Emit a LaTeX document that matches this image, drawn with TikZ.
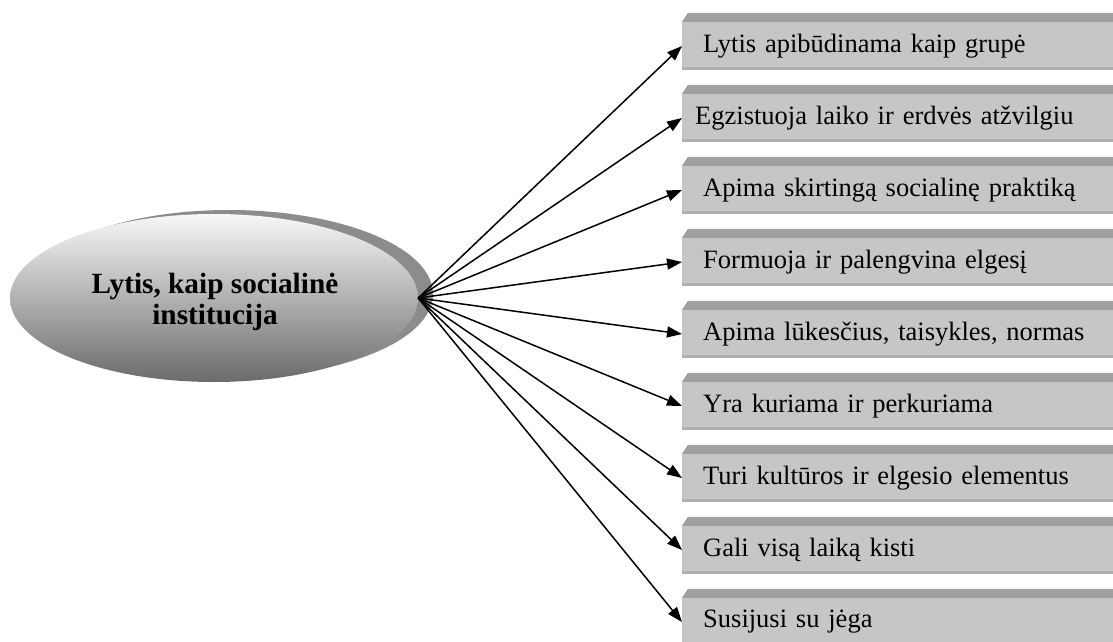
\documentclass[tikz,border=0pt]{standalone}
\usepackage{fontspec}
\setmainfont{Liberation Serif}
\usetikzlibrary{arrows.meta,shapes.geometric}

\definecolor{facegray}{HTML}{C6C6C6}
\definecolor{bevelgray}{HTML}{A0A0A0}
\definecolor{edgegray}{HTML}{B0B0B0}
\definecolor{shadowgray}{HTML}{8C8C8C}

\begin{document}
\begin{tikzpicture}[x=1pt,y=-1pt]
    \useasboundingbox (0,0) rectangle (1113,642);

    % the institution (ellipse with its grey back)
    \begin{scope}[every node/.style={ellipse,inner sep=0pt,minimum width=408pt,minimum height=168pt}]
        \node[fill=shadowgray] (E_back) at (229, 294) {};
        \node[top color=black!3, bottom color=black!58] (E) at (214, 298) {};
    \end{scope}
    \node[font=\fontsize{29.3}{31.5}\selectfont\bfseries, align=center] (E_text) at (215, 302) {Lytis, kaip socialinė\\institucija};

    % the nine features
    \begin{scope}[every node/.style={rectangle,fill=facegray,anchor=west,minimum height=48pt,
                  text width=420pt,inner xsep=21pt,align=left,font=\fontsize{26.5}{30}\selectfont}]
        \node (F_1) at (682, 46) {Lytis apibūdinama kaip grupė};
        \node[inner xsep=13pt, text width=436pt] (F_2) at (682, 118) {Egzistuoja laiko ir erdvės atžvilgiu};
        \node (F_3) at (682, 190) {Apima skirtingą socialinę praktiką};
        \node (F_4) at (682, 262) {Formuoja ir palengvina elgesį};
        \node (F_5) at (682, 334) {Apima lūkesčius, taisykles, normas};
        \node (F_6) at (682, 406) {Yra kuriama ir perkuriama};
        \node (F_7) at (682, 478) {Turi kultūros ir elgesio elementus};
        \node (F_8) at (682, 550) {Gali visą laiką kisti};
        \node (F_9) at (682, 622) {Susijusi su jėga};
    \end{scope}

    \foreach \i in {1,...,9} {
        \fill[bevelgray] (F_\i.north west) -- ++(6,-9) -- ++(500,0) -- ++(0,9) -- cycle;
        \fill[edgegray] (F_\i.south west) rectangle ++(500,-3);
    }

    \begin{scope}[every edge/.style={draw=black,line width=1.5pt,-{Triangle[length=15pt,width=11pt]}}]
        \foreach \i in {1,...,9}
            \path (E.east) edge (F_\i.west);
    \end{scope}
\end{tikzpicture}
\end{document}
